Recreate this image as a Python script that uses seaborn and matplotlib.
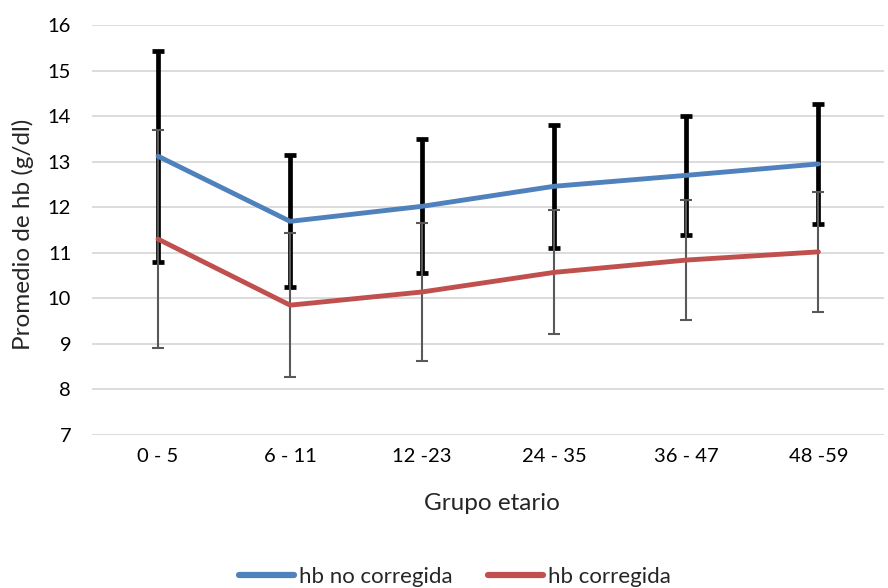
import numpy as np
import pandas as pd
import matplotlib
matplotlib.use("Agg")
import matplotlib.pyplot as plt
import seaborn as sns
from matplotlib.lines import Line2D

grupos = ["0 - 5", "6 - 11", "12 -23", "24 - 35", "36 - 47", "48 -59"]
hb_no_corr = [13.12, 11.69, 12.02, 12.46, 12.70, 12.95]
sd_no_corr = [2.32, 1.45, 1.47, 1.35, 1.30, 1.32]
hb_corr = [11.30, 9.85, 10.14, 10.57, 10.84, 11.02]
sd_corr = [2.40, 1.58, 1.52, 1.36, 1.31, 1.31]
yticks = [7, 8, 9, 10, 11, 12, 13, 14, 15, 16]

sns.set_theme(style="white")
plt.rcParams['font.family'] = ['Lato', 'DejaVu Sans']

fig = plt.figure(figsize=(8.88, 5.88), dpi=100)
ax = fig.add_axes([92/888, 1-435/588, 1-92/888-0.004, (435-25)/588])

pos = np.arange(len(grupos))
df = pd.DataFrame({"x": np.concatenate([pos, pos]),
                   "y": hb_no_corr + hb_corr,
                   "serie": ["hb no corregida"]*6 + ["hb corregida"]*6})

ax.errorbar(pos, hb_no_corr, yerr=sd_no_corr, fmt="none", ecolor="black",
            elinewidth=3.4, capsize=4.2, capthick=3.4, zorder=2)
ax.errorbar(pos, hb_corr, yerr=sd_corr, fmt="none", ecolor="#595959",
            elinewidth=1.5, capsize=4.2, capthick=1.5, zorder=3)

sns.lineplot(data=df, x="x", y="y", hue="serie",
             palette={"hb no corregida": "#4f81bd", "hb corregida": "#c0504d"},
             linewidth=3.5, ax=ax, zorder=4, legend=False)

ax.set_xlim(-0.5, 5.5)
ax.set_ylim(7, 16)
ax.set_yticks(yticks)
ax.set_xticks(pos)
ax.set_xticklabels(grupos)
ax.yaxis.grid(True, color="#d9d9d9", linewidth=1.3, zorder=0)
ax.xaxis.grid(False)
ax.set_axisbelow(True)
for s in ax.spines.values():
    s.set_visible(False)
ax.tick_params(axis="both", length=0, labelsize=14.5, colors="#000000")
ax.tick_params(axis="x", pad=9)
ax.tick_params(axis="y", pad=15)
ax.set_xlabel("Grupo etario", fontsize=17.5)
ax.set_ylabel("Promedio de hb (g/dl)", fontsize=17.5)
ax.xaxis.set_label_coords(0.505, -0.142)
ax.yaxis.set_label_coords(-0.073, 0.49)

handles = [Line2D([], [], color="#4f81bd", lw=4.5, solid_capstyle="round"),
           Line2D([], [], color="#c0504d", lw=4.5, solid_capstyle="round")]
fig.legend(handles, ["hb no corregida", "hb corregida"], loc="center",
           bbox_to_anchor=(0.512, 1-577/588), ncol=2, frameon=False, fontsize=16,
           handlelength=2.5, handletextpad=0.2, columnspacing=1.6)

fig.savefig("out.png", dpi=100)
